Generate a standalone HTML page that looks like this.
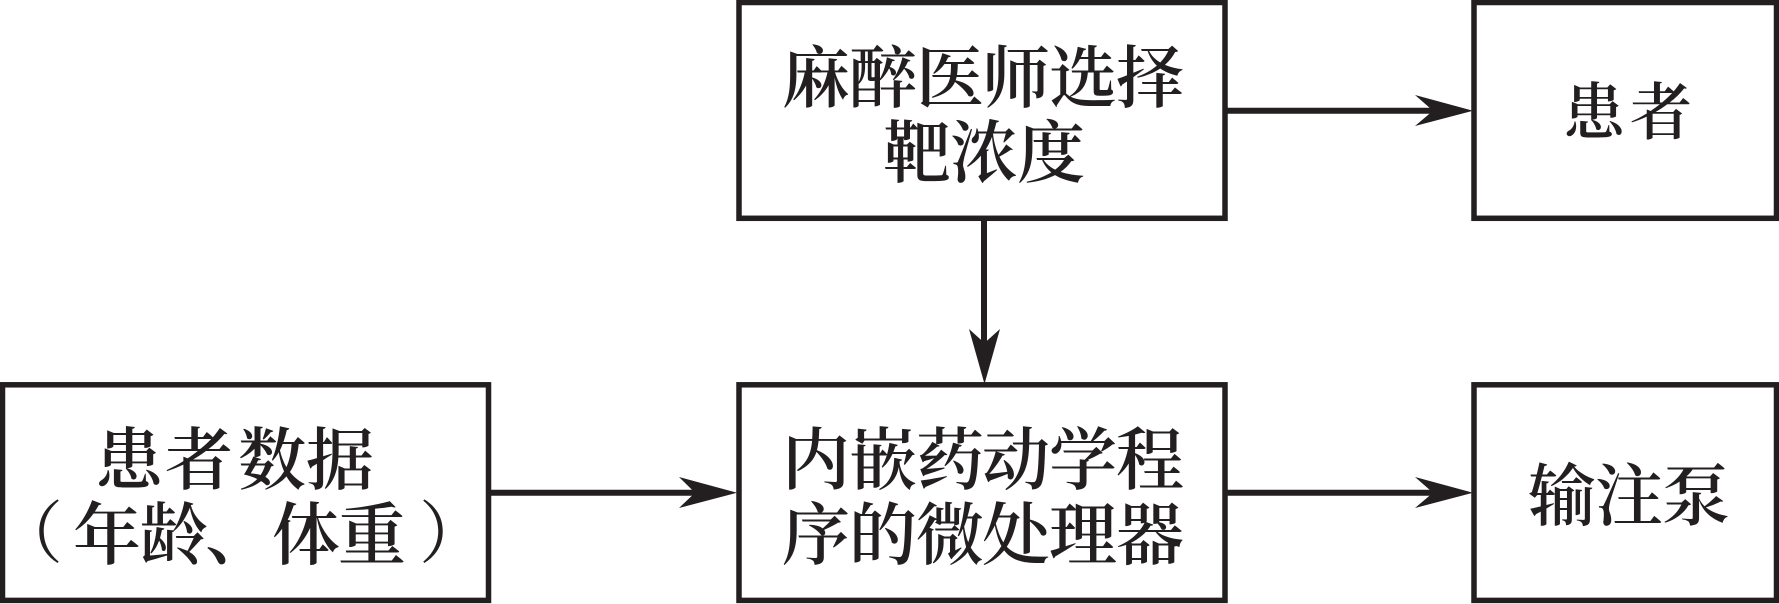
<!DOCTYPE html>
<html lang="zh"><head><meta charset="utf-8"><style>
html,body{margin:0;padding:0;background:#fff;width:1779px;height:604px;overflow:hidden}
svg{display:block}
text{font-family:"Liberation Serif","Noto Serif CJK SC",serif;font-weight:600;fill:#231f20;font-size:68px}
</style></head><body>
<svg width="1779" height="604" viewBox="0 0 1779 604" xmlns="http://www.w3.org/2000/svg">
<rect width="1779" height="604" fill="#fff"/>
<g fill="none" stroke="#231f20" stroke-width="5.5">
<rect x="2.5" y="384.8" width="486" height="215.6"/>
<rect x="739" y="2.5" width="486" height="215.8"/>
<rect x="739" y="384.8" width="486" height="215.6"/>
<rect x="1474" y="2.5" width="302.5" height="215.8"/>
<rect x="1474" y="384.8" width="302.5" height="215.6"/>
</g>
<g stroke="#231f20" stroke-width="6">
<line x1="1227" y1="110.7" x2="1440" y2="110.7"/>
<line x1="1227" y1="492.7" x2="1440" y2="492.7"/>
<line x1="491" y1="492.7" x2="700" y2="492.7"/>
<line x1="984" y1="221" x2="984" y2="350"/>
</g>
<g fill="#231f20">
<polygon points="1473,110.7 1415,95 1433,110.7 1415,126"/>
<polygon points="1473,492.7 1415,477 1433,492.7 1415,508"/>
<polygon points="737,492.7 679,477 695,492.7 679,508"/>
<polygon points="984.5,384 969,329 984.5,343 1000,329"/>
</g>
<text x="782 849 916 982 1049 1116" y="102">麻醉医师选择</text>
<text x="883 950 1017" y="177">靶浓度</text>
<text x="782 849 916 982 1049 1116" y="484">内嵌药动学程</text>
<text x="782 849 916 982 1049 1116" y="559">序的微处理器</text>
<text x="95 165 238 306" y="484">患者数据</text>
<text x="73 140 205 272 338" y="559">年龄、体重</text>
<text x="-5" y="557" style="font-weight:400">（</text>
<text x="419" y="557" style="font-weight:400">）</text>
<text x="1563 1630" y="134" style="font-size:62px">患者</text>
<text x="1528 1595 1662" y="520">输注泵</text>
</svg>
</body></html>
